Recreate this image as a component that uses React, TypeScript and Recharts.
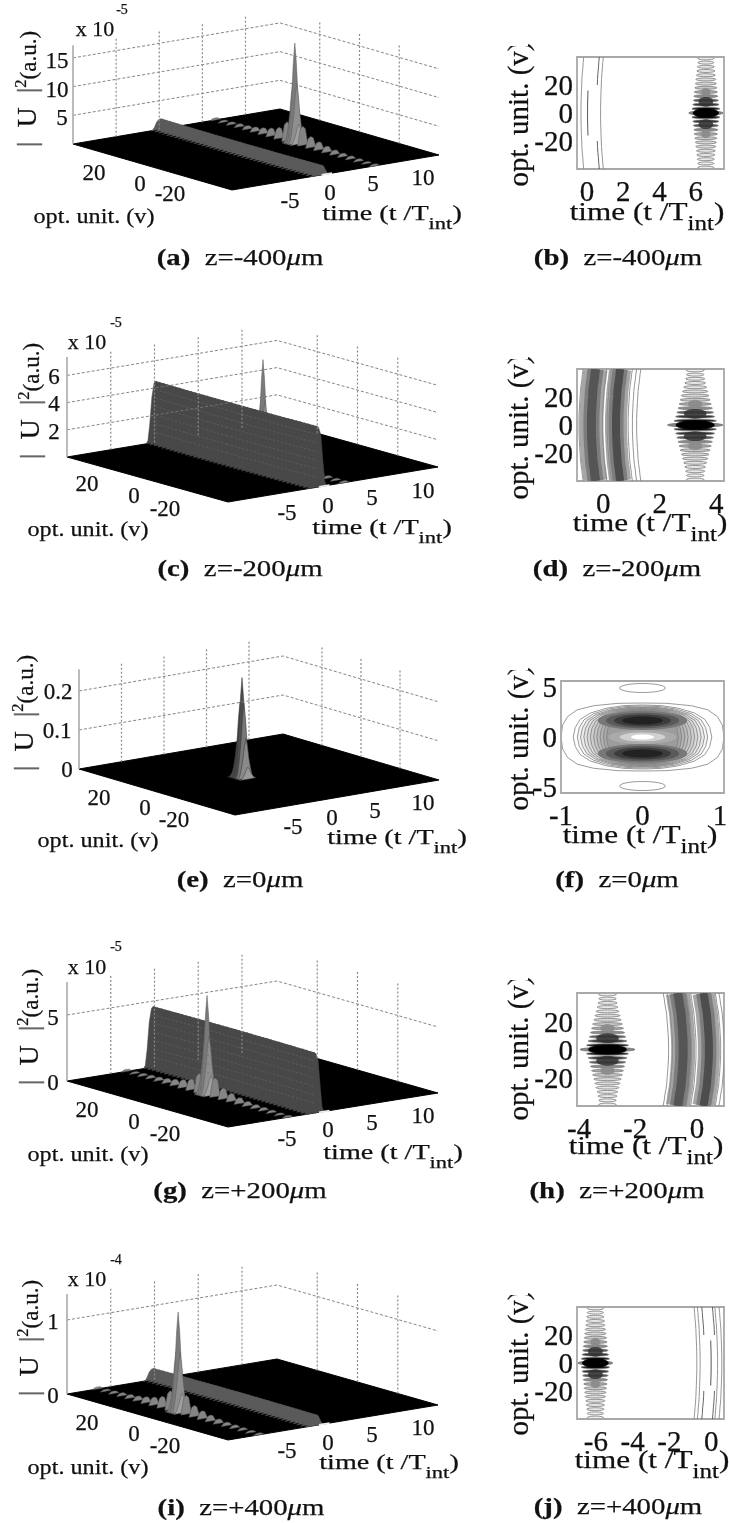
import React from "react";
import { ComposedChart, Area, Line, XAxis, YAxis, ReferenceArea } from "recharts";

const SERIF = '"Liberation Serif", "Times New Roman", serif';

const tTicks = [-5, 0, 5, 10];
const vTicks = [20, 0, -20];
const tRange = [-10, 14];

const ridgeV = [40, 38, 36, 34, 32, 30, 28, 26, 24, 22, 20, 18, 16, 14, 12, 10, 8, 6, 4, 2, 0, -2, -4, -6, -8, -10, -12, -14, -16, -18, -20, -22, -24, -26, -28, -30, -32, -34, -36, -38, -40];
const ridgeBend = [0.15, 0.135, 0.12, 0.11, 0.1, 0.085, 0.07, 0.06, 0.05, 0.045, 0.04, 0.03, 0.025, 0.02, 0.015, 0.01, 0.005, 0, 0, 0, 0, 0, 0, 0, 0.005, 0.01, 0.015, 0.02, 0.025, 0.03, 0.04, 0.045, 0.05, 0.06, 0.07, 0.085, 0.1, 0.11, 0.12, 0.135, 0.15];
const ridgeT = [-1.1, -0.9, -0.7, -0.45, -0.2, 0, 0.2, 0.45, 0.7, 0.9, 1.1];
const ridgeZ = [0, 0.05, 0.3, 0.75, 0.97, 1, 0.97, 0.85, 0.4, 0.08, 0];
const faceLevel = [0.86, 0.72, 0.58, 0.44, 0.3, 0.16];

const spikeT = [-1, -0.75, -0.55, -0.35, -0.18, 0, 0.18, 0.35, 0.55, 0.75, 1];
const spikeZ = [0, 0.06, 0.25, 0.5, 0.8, 1, 0.8, 0.5, 0.25, 0.06, 0];
const spikeV = [2, 1, 0, -1, -2];
const spikeLevel = [0.2, 0.6, 1, 0.6, 0.2];
const spikeInk = ["#8a8a8a", "#7e7e7e", "#7a7a7a", "#8e8e8e", "#a0a0a0"];

const lobeV = [40, 36, 32, 28, 24, 20, 16, 12, 8, 4, -4, -8, -12, -16, -20, -24, -28, -32, -36, -40];
const lobeLevel = [0.02, 0.02, 0.025, 0.03, 0.035, 0.045, 0.06, 0.08, 0.11, 0.19, 0.19, 0.11, 0.08, 0.06, 0.045, 0.035, 0.03, 0.025, 0.02, 0.02];
const lobeT = [-0.6, -0.3, 0, 0.3, 0.6];
const lobeZ = [0, 0.85, 1, 0.85, 0];

const focusV = [3, 2, 1, 0, -1, -2, -3];
const focusLevel = [0.12, 0.4, 0.75, 1, 0.75, 0.4, 0.12];
const focusInk = ["#555", "#4e4e4e", "#4a4a4a", "#4d4d4d", "#777", "#8a8a8a", "#999"];

// --- values ---
const fringeV = [39, 36, 33, 30, 27, 24, 21, 18, 15, 12, 9, 6, 3];
const fringeHalfWide = [0.44, 0.44, 0.47, 0.5, 0.52, 0.55, 0.58, 0.61, 0.64, 0.66, 0.69, 0.72, 0.77];
const fringeHalfNarrow = [0.31, 0.31, 0.34, 0.37, 0.41, 0.45, 0.49, 0.53, 0.57, 0.61, 0.65, 0.69, 0.75];
const fringeInk = ["#eee", "#eee", "#e8e8e8", "#e8e8e8", "#e4e4e4", "#ddd", "#d8d8d8", "#c8c8c8", "#aaa", "#8a8a8a", "#555", "#333", "#111"];
const loopC = [-1, -0.97, -0.87, -0.71, -0.5, -0.26, 0, 0.26, 0.5, 0.71, 0.87, 0.97, 1];
const loopS = [0, 0.26, 0.5, 0.71, 0.87, 0.97, 1, 0.97, 0.87, 0.71, 0.5, 0.26, 0];
const stadiumC = [-1, -0.98, -0.92, -0.8, -0.6, -0.3, 0, 0.3, 0.6, 0.8, 0.92, 0.98, 1];
const stadiumS = [0, 0.35, 0.6, 0.8, 0.92, 0.99, 1, 0.99, 0.92, 0.8, 0.6, 0.35, 0];
const roundC = [-1, -0.97, -0.9, -0.75, -0.52, -0.27, 0, 0.27, 0.52, 0.75, 0.9, 0.97, 1];
const roundS = [0, 0.3, 0.55, 0.75, 0.9, 0.98, 1, 0.98, 0.9, 0.75, 0.55, 0.3, 0];

const archV = [-40, -36, -32, -28, -24, -20, -16, -12, -8, -4, 0, 4, 8, 12, 16, 20, 24, 28, 32, 36, 40];
const archBend = [0.15, 0.12, 0.1, 0.07, 0.05, 0.04, 0.025, 0.015, 0.005, 0, 0, 0, 0.005, 0.015, 0.025, 0.04, 0.05, 0.07, 0.1, 0.12, 0.15];

const faintB = [-0.33, 0.75];
const faintJ = [-0.78, -0.6, 0.35, 0.58];
const dashB = [0.53];
const dashJ = [-0.36, 0.22];

const bandD = [-0.42, -0.42, -0.42, 0.45, 0.45, 0.45];
const bandH = [-0.5, -0.5, -0.5, 0.42, 0.42, 0.42];
const bandWidth = [24, 16, 9, 22, 15, 8];
const bandInk = ["#a6a6a6", "#7d7d7d", "#555", "#a6a6a6", "#7d7d7d", "#4d4d4d"];
const edgeD = [-0.86, -0.03, 0.14, 0.88, 1.03, 1.18];
const edgeH = [-1.02, -0.88, -0.2, -0.04, 0.84, 0.97];

const ringHalfT = [0.85, 0.8, 0.76, 0.72, 0.68, 0.64, 0.6, 0.56, 0.52, 0.48, 0.44];
const ringHalfV = [3.2, 3.1, 3.0, 2.95, 2.9, 2.85, 2.8, 2.75, 2.7, 2.65, 2.6];
const ringShade = ["#fff", "#f6f6f6", "#ececec", "#e2e2e2", "#d8d8d8", "#cecece", "#c4c4c4", "#bababa", "#b0b0b0", "#a6a6a6", "#9c9c9c"];
const lobeCentreV = [1.65, 1.65, 1.65, 1.65, -1.65, -1.65, -1.65, -1.65];
const lobeHalfT = [0.55, 0.45, 0.35, 0.25, 0.55, 0.45, 0.35, 0.25];
const lobeHalfV = [0.95, 0.78, 0.6, 0.4, 0.95, 0.78, 0.6, 0.4];
const lobeShade = ["#777", "#5a5a5a", "#3c3c3c", "#222", "#777", "#5a5a5a", "#3c3c3c", "#222"];
const coreHalfT = [0.42, 0.28, 0.14];
const coreHalfV = [0.7, 0.45, 0.25];
const coreShade = ["#aaa", "#d0d0d0", "#fff"];

type P = [number, number];
interface Geo { top: number; L: P; B: P; F: P; zPx: number; zTop: number; }

const project = (g: Geo, t: number, v: number, z: number) => {
  const u = (t - tRange[0]) / (tRange[1] - tRange[0]);
  const w = (40 - v) / 80;
  return {
    x: g.L[0] + u * (g.B[0] - g.L[0]) + w * (g.F[0] - g.L[0]),
    y: g.L[1] + u * (g.B[1] - g.L[1]) + w * (g.F[1] - g.L[1]) - z * g.zPx,
  };
};

const sliceRows = (g: Geo, t0: number, v: number, ts: number[], zs: number[], peak: number) =>
  ts.map((dt, i) => {
    const floor = project(g, t0 + dt, v, 0);
    return { x: floor.x, r: [floor.y, floor.y - peak * zs[i] * g.zPx] };
  });

interface Surface3D {
  id: string;
  geo: Geo;
  zTicks: number[];
  ridge: number;
  bend: number;
  ridgeFill: string;
  spikeAt: number;
  spike: number;
  focus?: boolean;
}

function Surface({ s }: { s: Surface3D }) {
  const g = s.geo;
  const R: P = [g.B[0] + g.F[0] - g.L[0], g.B[1] + g.F[1] - g.L[1]];
  const upper = (x: number) => g.L[1] + ((x - g.L[0]) / (g.B[0] - g.L[0])) * (g.B[1] - g.L[1]);
  const lower = (x: number) => g.F[1] + ((x - g.F[0]) / (R[0] - g.F[0])) * (R[1] - g.F[1]);
  const floorRows = [
    { x: g.L[0], r: [g.L[1], g.L[1]] },
    { x: g.F[0], r: [g.F[1], upper(g.F[0])] },
    { x: g.B[0], r: [lower(g.B[0]), g.B[1]] },
    { x: R[0], r: [R[1], R[1]] },
  ];

  const items: { v: number; t: number; rows: any[]; fill?: string; stroke: string; line?: boolean }[] = [];
  if (s.ridge > 0) {
    ridgeV.forEach((v, i) => {
      items.push({
        v,
        t: 0,
        rows: sliceRows(g, s.bend * ridgeBend[i], v, ridgeT, ridgeZ, s.ridge),
        fill: s.ridgeFill,
        stroke: s.ridgeFill,
      });
      if (i < ridgeV.length - 1) {
        // sheet along the crest, closes the gaps between two slices
        const a = project(g, s.bend * ridgeBend[i], v, 0);
        const b = project(g, s.bend * ridgeBend[i + 1], ridgeV[i + 1], 0);
        items.push({
          v: v - 0.5,
          t: 0,
          rows: [
            { x: a.x, r: [a.y, a.y - s.ridge * g.zPx] },
            { x: b.x, r: [b.y, b.y - s.ridge * g.zPx] },
          ],
          fill: s.ridgeFill,
          stroke: "none",
        });
      }
    });
    if (s.ridge * g.zPx > 30) {
      faceLevel.forEach((lv) => {
        const rowsAt = (from: number, to: number) =>
          ridgeV.slice(from, to).map((v, k) => project(g, s.bend * ridgeBend[k + from], v, s.ridge * lv));
        items.push({ v: 3, t: -9, rows: rowsAt(0, 19), stroke: "#6a6a6a", line: true });
        items.push({ v: -41, t: -9, rows: rowsAt(18, 41), stroke: "#6a6a6a", line: true });
      });
    }
  }
  if (s.focus) {
    focusV.forEach((v, i) => {
      items.push({ v, t: s.spikeAt, rows: sliceRows(g, s.spikeAt, v, spikeT, spikeZ, s.spike * focusLevel[i]), fill: focusInk[i], stroke: "#333" });
    });
  } else {
    lobeV.forEach((v, i) => {
      items.push({ v, t: s.spikeAt, rows: sliceRows(g, s.spikeAt, v, lobeT, lobeZ, s.spike * lobeLevel[i]), fill: "#858585", stroke: "#555" });
    });
    spikeV.forEach((v, i) => {
      items.push({ v, t: s.spikeAt, rows: sliceRows(g, s.spikeAt, v, spikeT, spikeZ, s.spike * spikeLevel[i]), fill: spikeInk[i], stroke: "#5a5a5a" });
    });
  }
  items.sort((a, b) => b.v - a.v || b.t - a.t);

  const H = 300;
  return (
    <div style={{ position: "absolute", left: 0, top: g.top, pointerEvents: "none" }}>
      <ComposedChart width={480} height={H} margin={{ top: 0, right: 0, bottom: 0, left: 0 }}>
        <XAxis type="number" dataKey="x" domain={[0, 480]} hide />
        <YAxis type="number" domain={[g.top, g.top + H]} reversed hide />
        {s.zTicks.map((z) => (
          <Line
            key={`z${z}`}
            data={[project(g, tRange[0], 40, z), project(g, tRange[1], 40, z), project(g, tRange[1], -40, z)]}
            dataKey="y"
            stroke="#777"
            strokeWidth={0.9}
            strokeDasharray="3 2"
            dot={false}
            activeDot={false}
            isAnimationActive={false}
          />
        ))}
        {tTicks.map((t) => (
          <Line
            key={`t${t}`}
            data={[project(g, t, 40, 0), project(g, t, 40, g.zTop)]}
            dataKey="y"
            stroke="#8a8a8a"
            strokeWidth={1.2}
            strokeDasharray="2 2"
            dot={false}
            activeDot={false}
            isAnimationActive={false}
          />
        ))}
        {vTicks.map((v) => (
          <Line
            key={`v${v}`}
            data={[project(g, tRange[1], v, 0), project(g, tRange[1], v, g.zTop)]}
            dataKey="y"
            stroke="#8a8a8a"
            strokeWidth={1.2}
            strokeDasharray="2 2"
            dot={false}
            activeDot={false}
            isAnimationActive={false}
          />
        ))}
        <Line
          data={[project(g, tRange[0], 40, 0), project(g, tRange[0], 40, g.zTop)]}
          dataKey="y"
          stroke="#aaa"
          strokeWidth={1.6}
          dot={false}
          activeDot={false}
          isAnimationActive={false}
        />
        <Area data={floorRows} dataKey="r" fill="#000" fillOpacity={1} stroke="#000" type="linear" dot={false} activeDot={false} isAnimationActive={false} />
        {items.map((it, i) =>
          it.line ? (
            <Line key={i} data={it.rows} dataKey="y" stroke={it.stroke} strokeWidth={0.6} strokeDasharray="2 2" dot={false} activeDot={false} isAnimationActive={false} />
          ) : (
            <Area
              key={i}
              data={it.rows}
              dataKey="r"
              fill={it.fill}
              fillOpacity={1}
              stroke={it.stroke}
              strokeWidth={0.5}
              type="linear"
              dot={false}
              activeDot={false}
              isAnimationActive={false}
            />
          )
        )}
        {s.ridge > 0 && (
          <Line
            data={[project(g, 0.4, -40, 0), project(g, 1.6, -40, 0)]}
            dataKey="y"
            stroke="#eee"
            strokeWidth={1.8}
            dot={false}
            activeDot={false}
            isAnimationActive={false}
          />
        )}
      </ComposedChart>
    </div>
  );
}

const ellipseRows = (tc: number, vc: number, hw: number, hh: number, cs = loopC, ss = loopS) =>
  cs.map((c, i) => ({ t: tc + hw * c, r: [vc - hh * ss[i], vc + hh * ss[i]] }));

const archRows = (t: number, sign: number, gain: number, from = 0, to = archV.length) =>
  archV.slice(from, to).map((v, i) => ({ t: t + sign * gain * archBend[i + from], v }));

const blobArea = (key: string, rows: any[], fill: string, stroke = "none", opacity = 1) => (
  <Area key={key} data={rows} dataKey="r" fill={fill} fillOpacity={opacity} stroke={stroke} strokeWidth={0.8} type="linear" dot={false} activeDot={false} isAnimationActive={false} />
);

const fringeAreas = (t0: number, halves: number[], blob: number, core: number) => {
  const out: React.ReactNode[] = [];
  fringeV.forEach((v, i) => {
    [v, -v].forEach((vc) => {
      out.push(blobArea(`f${vc}`, ellipseRows(t0, vc, halves[i], 1.05), fringeInk[i], "#7a7a7a"));
    });
  });
  [15, -15].forEach((vc) => out.push(blobArea(`m${vc}`, ellipseRows(t0, vc, 0.25, 3), "#8a8a8a", "none", 0.85)));
  [8, -8].forEach((vc) => out.push(blobArea(`k${vc}`, ellipseRows(t0, vc, 0.4, 3.5), "#333", "none", 0.85)));
  out.push(blobArea("halo", ellipseRows(t0, 0, blob, 1.5), "#888", "#666"));
  out.push(blobArea("core", ellipseRows(t0, 0, core, 3), "#000", "#000"));
  return out;
};

const arcLine = (key: string, rows: any[], stroke: string, width: number) => (
  <Line key={key} data={rows} dataKey="v" stroke={stroke} strokeWidth={width} dot={false} activeDot={false} isAnimationActive={false} />
);

interface MapProps {
  box: [number, number, number, number];
  tDomain: P;
  vDomain: P;
  tTickVals: number[];
  vTickVals: number[];
  negDx?: number;
  posDx?: number;
  children: React.ReactNode;
}

function ContourMap({ box, tDomain, vDomain, tTickVals, vTickVals, negDx = 0, posDx = 0, children }: MapProps) {
  const [x0, y0, x1, y1] = box;
  const left = 520;
  const tickStyle = { fontSize: 29, fontFamily: SERIF, fill: "#111", stroke: "#111", strokeWidth: 0.25 };
  const timeTick = (p: any) => {
    const val = p.payload.value;
    return (
      <text x={p.x + (val < 0 ? negDx : val > 0 ? posDx : 0)} y={p.y} dy="0.72em" textAnchor="middle" {...tickStyle}>
        {val}
      </text>
    );
  };
  return (
    <div style={{ position: "absolute", left, top: y0 - 14, pointerEvents: "none" }}>
      <ComposedChart width={729 - left} height={y1 - y0 + 14 + 42} margin={{ top: 14, right: 729 - x1, bottom: 0, left: 0 }}>
        <XAxis
          type="number"
          dataKey="t"
          domain={tDomain}
          ticks={tTickVals}
          interval={0}
          allowDataOverflow
          tick={timeTick}
          axisLine={false}
          tickLine={false}
          tickSize={0}
          tickMargin={11}
          height={42}
        />
        <YAxis
          type="number"
          domain={vDomain}
          ticks={vTickVals}
          interval={0}
          allowDataOverflow
          tick={tickStyle}
          axisLine={false}
          tickLine={false}
          tickSize={0}
          tickMargin={4}
          width={x0 - left}
        />
        {children}
        <ReferenceArea x1={tDomain[0]} x2={tDomain[1]} y1={vDomain[0]} y2={vDomain[1]} fill="none" stroke="#a8a8a8" strokeWidth={1.8} ifOverflow="extendDomain" />
      </ComposedChart>
    </div>
  );
}

function Txt({ x, y, size = 23, rot = 0, sx = 1, children }: any) {
  return (
    <div
      style={{
        position: "absolute",
        left: x,
        top: y,
        transform: `translate(-50%,-50%) rotate(${rot}deg) scaleX(${sx})`,
        fontFamily: SERIF,
        fontSize: size,
        lineHeight: 1,
        whiteSpace: "nowrap",
        color: "#111",
        WebkitTextStroke: "0.25px #111",
      }}
    >
      {children}
    </div>
  );
}

const timeLabel = (
  <>
    time (t /T
    <span style={{ fontSize: "0.8em", position: "relative", top: "0.5em" }}>int</span>)
  </>
);
const intensityLabel = (
  <>
    <span style={{ fontSize: 28 }}>
      <span style={{ color: "#666", WebkitTextStroke: "0.4px #666" }}>|</span>&nbsp;&nbsp;U&nbsp;&nbsp;
      <span style={{ color: "#666", WebkitTextStroke: "0.4px #666" }}>|</span>
    </span>
    <span style={{ fontSize: "0.72em", position: "relative", top: "-0.6em" }}>2</span>(a.u.)
  </>
);

function Caption({ x, y, tag, z }: { x: number; y: number; tag: string; z: string }) {
  return (
    <Txt x={x} y={y} size={24} sx={1.2}>
      <b>({tag})</b>&nbsp; z=
      {z}
      <i>μ</i>m
    </Txt>
  );
}

// the closing bracket of this label is cut through in the scan
function OptLabel({ y }: { y: number }) {
  return (
    <>
      <Txt x={518} y={y} size={29} rot={-90}>opt. unit. (v)</Txt>
      <div style={{ position: "absolute", left: 508, top: y - 75, width: 20, height: 7, background: "#fff" }} />
    </>
  );
}

const panelA: Surface3D = { id: "a", geo: { top: 0, L: [73, 144], B: [280, 109], F: [232, 190], zPx: 5.74, zTop: 17.2 }, zTicks: [5, 10, 15], ridge: 1.8, bend: 1, ridgeFill: "#5a5a5a", spikeAt: 6.5, spike: 17.4 };
const panelC: Surface3D = { id: "c", geo: { top: 300, L: [67, 457], B: [277, 422], F: [228, 502], zPx: 13.6, zTop: 7.35 }, zTicks: [2, 4, 6], ridge: 4.5, bend: 1, ridgeFill: "#484848", spikeAt: 3.2, spike: 7.4 };
const panelE: Surface3D = { id: "e", geo: { top: 600, L: [79, 769], B: [283, 734], F: [235, 815], zPx: 390, zTop: 0.256 }, zTicks: [0.1, 0.2], ridge: 0, bend: 0, ridgeFill: "#000", spikeAt: 0, spike: 0.256, focus: true };
const panelG: Surface3D = { id: "g", geo: { top: 920, L: [67, 1081], B: [277, 1047], F: [228, 1127], zPx: 13.2, zTop: 7.5 }, zTicks: [5], ridge: 4.6, bend: -1, ridgeFill: "#484848", spikeAt: -3.2, spike: 7.5 };
const panelI: Surface3D = { id: "i", geo: { top: 1220, L: [67, 1394], B: [277, 1359], F: [228, 1440], zPx: 74, zTop: 1.35 }, zTicks: [1], ridge: 0.15, bend: -1, ridgeFill: "#5a5a5a", spikeAt: -6.5, spike: 1.35 };

const floorLabels = ["20", "0", "-20", "-5", "0", "5", "10"];

function FloorLabels({ at }: { at: P[] }) {
  return (
    <>
      {floorLabels.map((s, i) => (
        <Txt key={i} x={at[i][0]} y={at[i][1]}>
          {s}
        </Txt>
      ))}
    </>
  );
}

export default function App() {
  return (
    <div style={{ position: "absolute", left: 0, top: 0, width: 729, height: 1523, overflow: "hidden", background: "#fff", filter: "blur(0.45px)" }}>
      <Surface s={panelA} />
      <Surface s={panelC} />
      <Surface s={panelE} />
      <Surface s={panelG} />
      <Surface s={panelI} />

      {/* b */}
      <ContourMap box={[577, 57, 724, 169]} tDomain={[-0.55, 7.55]} vDomain={[-40, 40]} tTickVals={[0, 2, 4, 6]} vTickVals={[-20, 0, 20]}>
        {faintB.map((t) => arcLine(`a${t}`, archRows(t, 1, 1), "#8a8a8a", 0.9))}
        {dashB.map((t) => arcLine(`d${t}`, archRows(t, 1, 1, 0, 6), "#555", 0.9))}
        {dashB.map((t) => arcLine(`e${t}`, archRows(t, 1, 1, 15), "#555", 0.9))}
        {arcLine("mid", archRows(0.03, 1, 1, 6, 15), "#666", 1.1)}
        {fringeAreas(6.55, fringeHalfWide, 0.95, 0.7)}
      </ContourMap>

      {/* d */}
      <ContourMap box={[577, 369, 724, 481]} tDomain={[-0.93, 4.27]} vDomain={[-40, 40]} tTickVals={[0, 2, 4]} vTickVals={[-20, 0, 20]}>
        {bandD.map((t, i) => arcLine(`b${i}`, archRows(t, 1, 1), bandInk[i], bandWidth[i]))}
        {edgeD.map((t) => arcLine(`o${t}`, archRows(t, 1, 1), "#8a8a8a", 0.9))}
        {fringeAreas(3.25, fringeHalfNarrow, 0.98, 0.68)}
      </ContourMap>

      {/* f */}
      <ContourMap box={[561, 681, 724, 793]} tDomain={[-1, 1]} vDomain={[-5.6, 5.6]} tTickVals={[-1, 0, 1]} vTickVals={[-5, 0, 5]} posDx={-4}>
        {blobArea("outer", ellipseRows(0, 0, 1, 3.4, stadiumC, stadiumS), "#fff", "#808080")}
        {ringHalfT.map((hw, i) => blobArea(`c${i}`, ellipseRows(0, 0, hw, ringHalfV[i], roundC, roundS), ringShade[i], "#808080"))}
        {lobeHalfT.map((hw, i) => blobArea(`l${i}`, ellipseRows(0, lobeCentreV[i], hw, lobeHalfV[i]), lobeShade[i]))}
        {coreHalfT.map((hw, i) => blobArea(`w${i}`, ellipseRows(0, 0, hw, coreHalfV[i]), coreShade[i]))}
        {blobArea("capTop", ellipseRows(0, 4.9, 0.28, 0.45), "#fff", "#808080")}
        {blobArea("capBottom", ellipseRows(0, -4.9, 0.28, 0.45), "#fff", "#808080")}
      </ContourMap>

      {/* h */}
      <ContourMap box={[577, 993, 724, 1106]} tDomain={[-4.29, 0.96]} vDomain={[-40, 40]} tTickVals={[-4, -2, 0]} vTickVals={[-20, 0, 20]} negDx={-6}>
        {bandH.map((t, i) => arcLine(`b${i}`, archRows(t, -1, 1.3), bandInk[i], bandWidth[i]))}
        {edgeH.map((t) => arcLine(`o${t}`, archRows(t, -1, 1.3), "#8a8a8a", 0.9))}
        {fringeAreas(-3.2, fringeHalfNarrow, 0.98, 0.68)}
      </ContourMap>

      {/* j */}
      <ContourMap box={[577, 1307, 724, 1419]} tDomain={[-7.3, 0.7]} vDomain={[-40, 40]} tTickVals={[-6, -4, -2, 0]} vTickVals={[-20, 0, 20]} negDx={-5}>
        {faintJ.map((t) => arcLine(`a${t}`, archRows(t, -1, 1), "#8a8a8a", 0.9))}
        {dashJ.map((t) => arcLine(`d${t}`, archRows(t, -1, 1, 0, 6), "#555", 0.9))}
        {dashJ.map((t) => arcLine(`e${t}`, archRows(t, -1, 1, 15), "#555", 0.9))}
        {arcLine("mid", archRows(0, -1, 1, 6, 15), "#666", 1.1)}
        {fringeAreas(-6.3, fringeHalfWide, 0.95, 0.7)}
      </ContourMap>

      {/* a labels */}
      <Txt x={27} y={89} rot={-90}>{intensityLabel}</Txt>
      <Txt x={95} y={29} size={22}>x 10</Txt>
      <Txt x={122} y={10} size={14}>-5</Txt>
      <Txt x={57} y={60}>15</Txt>
      <Txt x={57} y={89}>10</Txt>
      <Txt x={62} y={117}>5</Txt>
      <FloorLabels at={[[94, 172], [140, 183], [170, 193], [290, 200], [330, 192], [373, 183], [423, 177]]} />
      <Txt x={94} y={216} size={22} sx={1.1}>opt. unit. (v)</Txt>
      <Txt x={392} y={213} size={22} sx={1.28}>{timeLabel}</Txt>
      <Caption x={240} y={257} tag="a" z="-400" />

      {/* c labels */}
      <Txt x={30} y={401} rot={-90}>{intensityLabel}</Txt>
      <Txt x={87} y={342} size={22}>x 10</Txt>
      <Txt x={116} y={323} size={14}>-5</Txt>
      <Txt x={54} y={376}>6</Txt>
      <Txt x={54} y={403}>4</Txt>
      <Txt x={54} y={431}>2</Txt>
      <FloorLabels at={[[87, 483], [134, 495], [165, 508], [287, 512], [328, 505], [372, 497], [423, 490]]} />
      <Txt x={88} y={529} size={22} sx={1.1}>opt. unit. (v)</Txt>
      <Txt x={382} y={527} size={22} sx={1.28}>{timeLabel}</Txt>
      <Caption x={240} y={568} tag="c" z="-200" />

      {/* e labels */}
      <Txt x={24} y={713} rot={-90}>{intensityLabel}</Txt>
      <Txt x={58} y={691}>0.2</Txt>
      <Txt x={57} y={730}>0.1</Txt>
      <Txt x={67} y={769}>0</Txt>
      <FloorLabels at={[[99, 797], [145, 807], [174, 819], [293, 826], [332, 817], [375, 810], [423, 802]]} />
      <Txt x={98} y={840} size={22} sx={1.1}>opt. unit. (v)</Txt>
      <Txt x={397} y={837} size={22} sx={1.28}>{timeLabel}</Txt>
      <Caption x={240} y={879} tag="e" z="0" />

      {/* g labels */}
      <Txt x={29} y={1027} rot={-90}>{intensityLabel}</Txt>
      <Txt x={87} y={967} size={22}>x 10</Txt>
      <Txt x={116} y={947} size={14}>-5</Txt>
      <Txt x={53} y={1017}>5</Txt>
      <Txt x={53} y={1082}>0</Txt>
      <FloorLabels at={[[87, 1109], [134, 1121], [165, 1133], [287, 1138], [328, 1129], [372, 1122], [423, 1115]]} />
      <Txt x={88} y={1154} size={22} sx={1.1}>opt. unit. (v)</Txt>
      <Txt x={393} y={1152} size={22} sx={1.28}>{timeLabel}</Txt>
      <Caption x={240} y={1190} tag="g" z="+200" />

      {/* i labels */}
      <Txt x={29} y={1338} rot={-90}>{intensityLabel}</Txt>
      <Txt x={87} y={1279} size={22}>x 10</Txt>
      <Txt x={116} y={1260} size={14}>-4</Txt>
      <Txt x={53} y={1321}>1</Txt>
      <Txt x={53} y={1395}>0</Txt>
      <FloorLabels at={[[87, 1422], [134, 1433], [165, 1445], [287, 1450], [328, 1442], [372, 1434], [423, 1427]]} />
      <Txt x={88} y={1467} size={22} sx={1.1}>opt. unit. (v)</Txt>
      <Txt x={389} y={1462} size={22} sx={1.28}>{timeLabel}</Txt>
      <Caption x={241} y={1507} tag="i" z="+400" />

      {/* right column labels */}
      <OptLabel y={114} />
      <Txt x={647} y={212} size={26} sx={1.2}>{timeLabel}</Txt>
      <Caption x={618} y={257} tag="b" z="-400" />
      <OptLabel y={427} />
      <Txt x={650} y={523} size={26} sx={1.2}>{timeLabel}</Txt>
      <Caption x={617} y={568} tag="d" z="-200" />
      <OptLabel y={738} />
      <Txt x={640} y={835} size={26} sx={1.2}>{timeLabel}</Txt>
      <Caption x={617} y={879} tag="f" z="0" />
      <OptLabel y={1048} />
      <Txt x={646} y={1146} size={26} sx={1.2}>{timeLabel}</Txt>
      <Caption x={617} y={1190} tag="h" z="+200" />
      <OptLabel y={1363} />
      <Txt x={652} y={1460} size={26} sx={1.2}>{timeLabel}</Txt>
      <Caption x={618} y={1506} tag="j" z="+400" />

      <Txt x={373} y={1531} size={20} sx={1.2}>106</Txt>
    </div>
  );
}
